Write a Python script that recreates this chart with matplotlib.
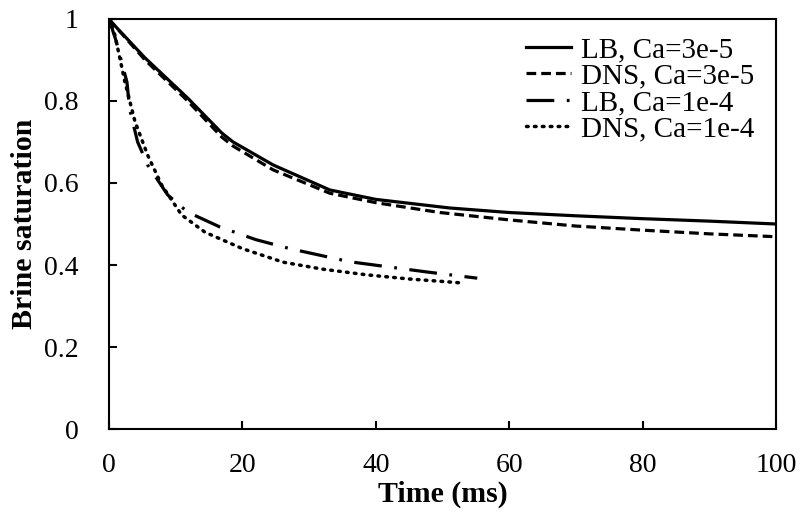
import matplotlib
matplotlib.use('Agg')
import matplotlib.pyplot as plt

# Time (ms) and brine saturation
t_lb_3e5 = [0, 0.5, 5.4, 11.8, 16.9, 18.6, 24.6, 33.1, 40, 51.1, 60, 70, 80, 90, 100]
s_lb_3e5 = [1.0, 0.99, 0.905, 0.807, 0.722, 0.70, 0.644, 0.583, 0.56, 0.539, 0.528, 0.52, 0.513, 0.507, 0.50]

t_dns_3e5 = [0, 0.5, 5.4, 11.8, 16.9, 18.6, 24.6, 33.1, 40, 49.6, 60, 70, 80, 90, 100]
s_dns_3e5 = [1.0, 0.99, 0.9, 0.8, 0.712, 0.69, 0.632, 0.575, 0.552, 0.528, 0.51, 0.495, 0.485, 0.476, 0.469]

t_lb_1e4 = [0, 1.0, 2.7, 3.1, 4.3, 5.8, 8.8, 11.8, 16.6, 22, 27.1, 36.1, 47.7, 55.2]
s_lb_1e4 = [1.0, 0.95, 0.846, 0.78, 0.70, 0.644, 0.571, 0.529, 0.493, 0.462, 0.44, 0.408, 0.383, 0.368]

t_dns_1e4 = [0, 0.9, 2.4, 3.9, 5.8, 7.9, 10.9, 14.4, 20, 26.1, 32, 38.7, 45, 50.8, 53.1]
s_dns_1e4 = [1.0, 0.96, 0.846, 0.75, 0.668, 0.595, 0.522, 0.48, 0.44, 0.407, 0.39, 0.376, 0.366, 0.359, 0.356]

labels = ['LB, Ca=3e-5', 'DNS, Ca=3e-5', 'LB, Ca=1e-4', 'DNS, Ca=1e-4']

plt.rcParams['font.family'] = ['Liberation Serif', 'DejaVu Serif']
plt.rcParams['lines.scale_dashes'] = False

fig = plt.figure(figsize=(8.01, 5.24), dpi=100)
ax = fig.add_axes([0.136, 0.181, 0.833, 0.783])

ax.plot(t_lb_3e5, s_lb_3e5, color='black', lw=2.3, ls='-', label=labels[0])
ax.plot(t_dns_3e5, s_dns_3e5, color='black', lw=2.3, ls=(0, (7, 3.6)), label=labels[1])
ax.plot(t_lb_1e4, s_lb_1e4, color='black', lw=2.3, ls=(0, (20, 9, 2, 9)), label=labels[2])
ax.plot(t_dns_1e4, s_dns_1e4, color='black', lw=2.5, ls=(0, (1.2, 4.5)),
        dash_capstyle='round', label=labels[3])

ax.set_xlim(0, 100)
ax.set_ylim(0, 1)
ax.set_xticks([0, 20, 40, 60, 80, 100])
ax.set_yticks([0, 0.2, 0.4, 0.6, 0.8, 1])
ax.set_yticklabels(['0', '0.2', '0.4', '0.6', '0.8', '1'])
ax.tick_params(direction='in', length=6, width=1.5, labelsize=20)
ax.tick_params(axis='x', pad=17)
ax.tick_params(axis='y', pad=22)
for sp in ax.spines.values():
    sp.set_linewidth(1.5)

ax.set_xlabel('Time (ms)', fontsize=21.5, fontweight='bold', labelpad=2)
ax.set_ylabel('Brine saturation', fontsize=21.5, fontweight='bold', labelpad=4)

ax.legend(loc='upper right', bbox_to_anchor=(0.985, 0.985), frameon=False,
          fontsize=21, handlelength=1.55, labelspacing=0.0, handletextpad=0.35,
          borderaxespad=0.0)

fig.savefig('out.png', dpi=100)
